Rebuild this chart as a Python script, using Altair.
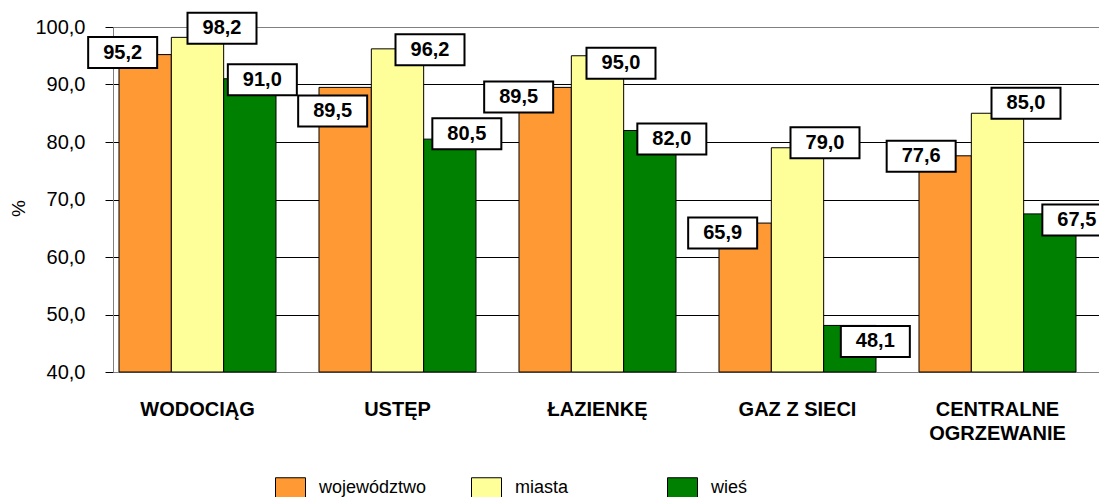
import altair as alt
import pandas as pd

categories = ["WODOCIĄG", "USTĘP", "ŁAZIENKĘ", "GAZ Z SIECI", "CENTRALNE OGRZEWANIE"]
series = ["województwo", "miasta", "wieś"]
colors = ["#FF9933", "#FFFF99", "#008000"]

wojewodztwo = [95.2, 89.5, 89.5, 65.9, 77.6]
miasta = [98.2, 96.2, 95.0, 79.0, 85.0]
wies = [91.0, 80.5, 82.0, 48.1, 67.5]

# label-box nudges in pixels, relative to the top centre of each bar
label_dx = {
    "województwo": [-22.5, -12.5, -26.5, -22.5, -24],
    "miasta": [24.5, 32.5, 23.5, 27.5, 28.5],
    "wieś": [12.5, 17, 22, 25.5, 27],
}
label_dy = {
    "województwo": [-2, 23.5, 9.5, 10, 0.5],
    "miasta": [-9, 1, 7.5, -5, -10],
    "wieś": [1, -5.5, 8.5, 16, 6],
}

values = {"województwo": wojewodztwo, "miasta": miasta, "wieś": wies}
rows = []
for si, s in enumerate(series):
    for j, c in enumerate(categories):
        rows.append({"cat": c, "series": s, "si": si, "value": values[s][j],
                     "dx": label_dx[s][j], "dy": label_dy[s][j]})
df = pd.DataFrame(rows)

FONT = "Liberation Sans"

x_scale = alt.Scale(paddingInner=0.215, paddingOuter=0.0725, align=0.207)
y_scale = alt.Scale(domain=[40, 100], nice=False, zero=False)

base = alt.Chart(df).transform_calculate(
    label="replace(format(datum.value, '.1f'), '.', ',')"
)

x_axis = alt.Axis(
    title=None, ticks=False, labelAngle=0, labelFontWeight="bold", labelFontSize=20,
    labelFont=FONT, labelColor="black", labelBaseline="top", labelPadding=27,
    labelLineHeight=24, domainColor="#808080", domainWidth=1,
    labelExpr="datum.label == 'CENTRALNE OGRZEWANIE' ? ['CENTRALNE', 'OGRZEWANIE'] : datum.label",
)
y_axis = alt.Axis(
    title="%", titleAngle=270, titleFontSize=19, titleFontWeight="normal", titleFont=FONT,
    titleX=-95, titleY=181, titleAlign="center", titleBaseline="middle", titleColor="black",
    values=[40, 50, 60, 70, 80, 90, 100],
    labelExpr="replace(format(datum.value, '.1f'), '.', ',')",
    labelFontSize=20, labelFont=FONT, labelColor="black", labelPadding=20,
    tickSize=8, tickColor="black", tickWidth=1,
    domainColor="#808080", domainWidth=1,
    grid=True,
    gridColor={"condition": {"test": "datum.value == 100 || datum.value == 40", "value": "#808080"},
               "value": "#000000"},
    gridWidth=1,
)

bars = base.mark_bar(stroke="black", strokeWidth=1).encode(
    x=alt.X("cat:N", sort=categories, scale=x_scale, axis=x_axis),
    xOffset=alt.XOffset("series:N", sort=series, scale=alt.Scale(paddingInner=0, paddingOuter=0)),
    y=alt.Y("value:Q", scale=y_scale, axis=y_axis),
    y2=alt.datum(40),
    color=alt.Color(
        "series:N", sort=series, scale=alt.Scale(domain=series, range=colors),
        legend=alt.Legend(
            title=None, orient="none", legendX=167, legendY=450, direction="horizontal",
            symbolType="M-1.5,-1L1.5,-1L1.5,1L-1.5,1Z", symbolSize=400,
            symbolStrokeColor="black", symbolStrokeWidth=1, symbolOpacity=1,
            labelFontSize=18, labelFont=FONT, labelColor="black", labelOffset=18,
            columnPadding=42, gridAlign="all", padding=0,
        ),
    ),
)

# position of a label: centre of its bar (series sub-band) plus its nudge
x_off = alt.expr("(datum.si - 1) * bandwidth('x') / 3 + datum.dx")
y_off = alt.expr("datum.dy")

box_path = "M-2.2258,-1L2.2258,-1L2.2258,1L-2.2258,1Z"
enc = dict(x=alt.X("cat:N", sort=categories), y=alt.Y("value:Q"))
boxes = base.mark_point(shape=box_path, size=961, filled=True, fill="white",
                        stroke="black", strokeWidth=2, opacity=1,
                        xOffset=x_off, yOffset=y_off).encode(**enc)
texts = base.mark_text(font=FONT, fontSize=20, fontWeight="bold", color="black",
                       align="center", baseline="middle",
                       xOffset=x_off, yOffset=y_off).encode(text="label:N", **enc)

chart = alt.layer(bars, boxes, texts).properties(
    width=986, height=345,
    autosize=alt.AutoSizeParams(type="none"),
    padding={"left": 105, "top": 19, "right": 0, "bottom": 125},
).configure_view(stroke=None).configure(font=FONT)

chart.save("out.html", embed_options={"renderer": "svg", "actions": False})
